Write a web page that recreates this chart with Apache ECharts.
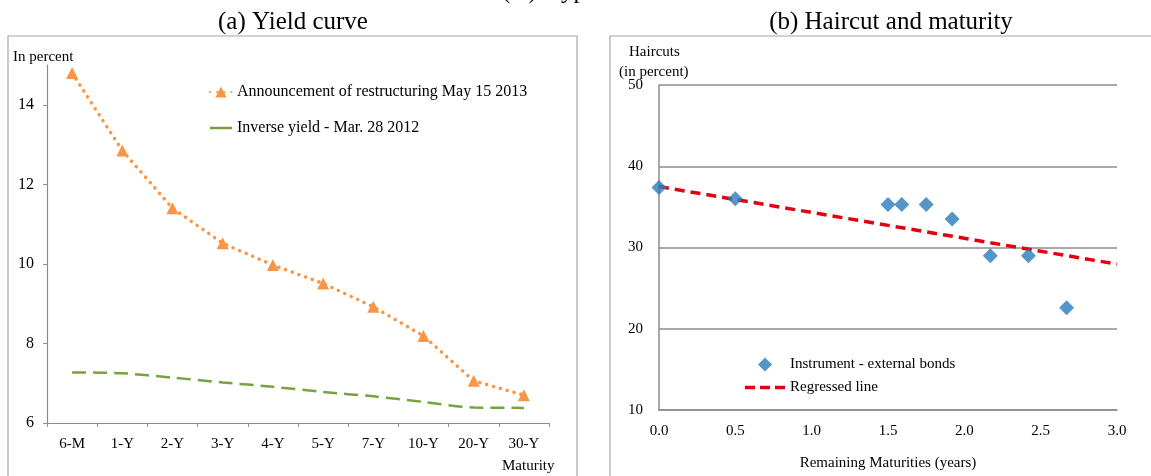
<!DOCTYPE html>
<html>
<head>
<meta charset="utf-8">
<script src="https://cdn.jsdelivr.net/npm/echarts@6/dist/echarts.min.js"></script>
<style>
html,body{margin:0;padding:0;background:#fff;}
#chart{width:1151px;height:476px;}
</style>
</head>
<body>
<div id="chart"></div>
<script>
// ---- Data ----
const yieldCategories = ['6-M', '1-Y', '2-Y', '3-Y', '4-Y', '5-Y', '7-Y', '10-Y', '20-Y', '30-Y'];
const announcementYield = [14.8, 12.85, 11.4, 10.52, 9.97, 9.51, 8.92, 8.19, 7.06, 6.70];
const inverseYield = [7.27, 7.25, 7.14, 7.02, 6.91, 6.78, 6.67, 6.53, 6.39, 6.38];
const yieldTicks = [6, 8, 10, 12, 14];

const remainingMaturity = [0, 0.5, 1.5, 1.59, 1.75, 1.92, 2.17, 2.42, 2.67];
const haircuts = [37.4, 36.0, 35.3, 35.3, 35.3, 33.5, 29.0, 29.0, 22.6];
const regressedX = [0, 3];
const regressedY = [37.5, 27.95];

const FONT = '"Liberation Serif", "Times New Roman", serif';
const AXIS_GRAY = '#8c8c8c';

const chart = echarts.init(document.getElementById('chart'), null, {renderer: 'canvas'});

const titleStyle = {fontFamily: FONT, fontSize: 25, fontWeight: 'normal', color: '#000'};

const option = {
  animation: false,
  backgroundColor: '#ffffff',
  textStyle: {fontFamily: FONT, color: '#000'},
  title: [
    {text: '(A) Hypothetical', left: 497, top: -26, textStyle: titleStyle},
    {text: '(a) Yield curve', left: 288, top: 5, textAlign: 'center', textStyle: titleStyle},
    {text: '(b) Haircut and maturity', left: 886, top: 5, textAlign: 'center', textStyle: titleStyle}
  ],
  graphic: [
    {type: 'rect', shape: {x: 8, y: 36, width: 569, height: 470}, silent: true,
     style: {fill: 'none', stroke: '#a6a6a6', lineWidth: 1.2}, z: -1},
    {type: 'rect', shape: {x: 610, y: 36, width: 600, height: 470}, silent: true,
     style: {fill: 'none', stroke: '#a6a6a6', lineWidth: 1.2}, z: -1},
    {type: 'text', left: 13, top: 50,
     style: {text: 'In percent', font: '15px ' + FONT, fill: '#000'}},
    {type: 'text', left: 502, top: 459,
     style: {text: 'Maturity', font: '15px ' + FONT, fill: '#000'}},
    {type: 'text', left: 629, top: 45,
     style: {text: 'Haircuts', font: '15px ' + FONT, fill: '#000'}},
    {type: 'text', left: 619, top: 65,
     style: {text: '(in percent)', font: '15px ' + FONT, fill: '#000'}}
  ],
  legend: [
    {
      orient: 'vertical', left: 204, top: 79, itemWidth: 22, itemHeight: 14, itemGap: 20,
      data: [
        {name: 'Announcement of restructuring May 15 2013'},
        {name: 'Inverse yield - Mar. 28 2012', icon: 'path://M0,0 L22,0 L22,2.5 L0,2.5 Z'}
      ],
      textStyle: {fontFamily: FONT, fontSize: 16, color: '#000'}
    },
    {
      orient: 'vertical', left: 740, top: 352, itemWidth: 40, itemHeight: 14, itemGap: 8,
      data: [
        {name: 'Instrument - external bonds', icon: 'path://M6,0 L12,6 L6,12 L0,6 Z'},
        {name: 'Regressed line',
         icon: 'path://M0,0 L10,0 L10,3.5 L0,3.5 Z M15,0 L25,0 L25,3.5 L15,3.5 Z M30,0 L40,0 L40,3.5 L30,3.5 Z'}
      ],
      textStyle: {fontFamily: FONT, fontSize: 15, color: '#000'}
    }
  ],
  grid: [
    {left: 47, right: 602, top: 65, bottom: 53},
    {left: 659, right: 34, top: 85, bottom: 64}
  ],
  xAxis: [
    {
      type: 'category', gridIndex: 0, data: yieldCategories, boundaryGap: true,
      axisLine: {lineStyle: {color: AXIS_GRAY, width: 1.2}},
      axisTick: {show: true, length: 4, lineStyle: {color: AXIS_GRAY}},
      axisLabel: {fontFamily: FONT, fontSize: 15, color: '#000', margin: 14},
      splitLine: {show: false}
    },
    {
      type: 'value', gridIndex: 1, min: 0, max: 3, interval: 0.5,
      name: 'Remaining Maturities (years)', nameLocation: 'middle', nameGap: 46,
      nameTextStyle: {fontFamily: FONT, fontSize: 15, color: '#000'},
      axisLine: {show: true, lineStyle: {color: AXIS_GRAY, width: 1.5}},
      axisTick: {show: false},
      axisLabel: {fontFamily: FONT, fontSize: 15, color: '#000', margin: 14,
                  formatter: v => v.toFixed(1)},
      splitLine: {show: false}
    }
  ],
  yAxis: [
    {
      type: 'value', gridIndex: 0, min: 6, max: 15,
      axisLine: {show: true, lineStyle: {color: AXIS_GRAY, width: 1.2}},
      axisTick: {show: true, length: 4, customValues: yieldTicks, lineStyle: {color: AXIS_GRAY}},
      axisLabel: {fontFamily: FONT, fontSize: 16, color: '#000', margin: 13, customValues: yieldTicks},
      splitLine: {show: false}
    },
    {
      type: 'value', gridIndex: 1, min: 10, max: 50, interval: 10,
      axisLine: {show: true, lineStyle: {color: AXIS_GRAY, width: 1.5}},
      axisTick: {show: false},
      axisLabel: {fontFamily: FONT, fontSize: 15, color: '#000', margin: 16},
      splitLine: {show: true, lineStyle: {color: AXIS_GRAY, width: 1.5}}
    }
  ],
  series: [
    {
      name: 'Announcement of restructuring May 15 2013', type: 'line',
      xAxisIndex: 0, yAxisIndex: 0, data: announcementYield,
      symbol: 'triangle', symbolSize: 12,
      itemStyle: {color: '#f79646'},
      lineStyle: {color: '#f79646', width: 3.5, type: [0.1, 7], cap: 'round'},
      z: 3
    },
    {
      name: 'Inverse yield - Mar. 28 2012', type: 'line',
      xAxisIndex: 0, yAxisIndex: 0, data: inverseYield,
      symbol: 'none', smooth: 0.3,
      itemStyle: {color: '#77a33e'},
      lineStyle: {color: '#77a33e', width: 2.5, type: [14, 7]},
      z: 2
    },
    {
      name: 'Instrument - external bonds', type: 'scatter',
      xAxisIndex: 1, yAxisIndex: 1,
      data: remainingMaturity.map((x, i) => [x, haircuts[i]]),
      symbol: 'diamond', symbolSize: 15,
      itemStyle: {color: '#2a7ab9'},
      z: 3
    },
    {
      name: 'Regressed line', type: 'line',
      xAxisIndex: 1, yAxisIndex: 1,
      data: regressedX.map((x, i) => [x, regressedY[i]]),
      symbol: 'none',
      itemStyle: {color: '#e3000f'},
      lineStyle: {color: '#e3000f', width: 3.5, type: [10, 6]},
      z: 2
    }
  ]
};
chart.setOption(option);
</script>
</body>
</html>
